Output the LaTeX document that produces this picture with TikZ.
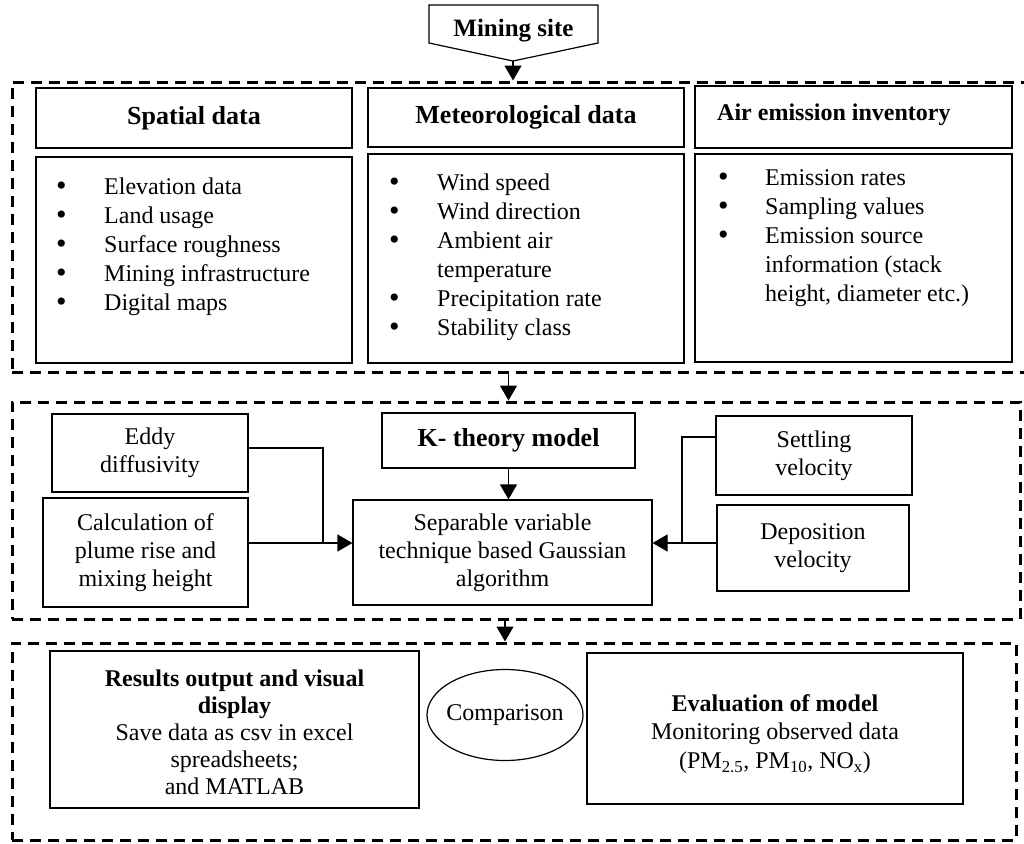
\documentclass[tikz,border=0pt]{standalone}
\usepackage{fontspec}
\setmainfont{Liberation Serif}
\usetikzlibrary{arrows.meta}

\newcommand\fsz[2]{\fontsize{#1}{#2}\selectfont}
\newcommand\lbul{{\fontsize{30}{29}\selectfont\raisebox{-1pt}{\textbullet}}}

\begin{document}
\begin{tikzpicture}[x=1pt,y=-1pt,
  frame/.style={draw, line width=3pt, dash pattern=on 11pt off 7pt, inner sep=0pt},
  box/.style={draw, line width=1.2pt, inner sep=0pt, align=center, font=\fsz{24}{28}},
  head/.style={box, font=\bfseries\fsz{26}{30}},
  listtext/.style={inner sep=0pt, anchor=base west, font=\fsz{24}{29}},
  link/.style={line width=1.2pt},
  arr/.style={line width=1.2pt, -{Triangle[length=15pt,width=17pt]}}]

\useasboundingbox (0,0) rectangle (1024,843);
\clip (0,0) rectangle (1024,843);

% ---------- mining site ----------
\draw[line width=1.2pt] (429,5) -- (598,5) -- (598,43) -- (513,61) -- (429,43) -- cycle;
\node[font=\bfseries\fsz{25}{30}] (mine) at (513.5,31) {Mining site};
\coordinate (minetip) at (513,61);

% ---------- input data ----------
\node[frame, minimum width=1022pt, minimum height=290pt] (topframe) at (523,227) {};

\node[head, minimum width=316pt, minimum height=60pt] (spatialhead) at (194,118) {Spatial data};
\node[box, minimum width=316pt, minimum height=206pt] (spatialbody) at (194,260) {};
\node[listtext] (spatiallist) at (56,194) {%
  \begin{tabular}[t]{@{}p{48pt}@{}l@{}}
  \lbul & Elevation data\\
  \lbul & Land usage\\
  \lbul & Surface roughness\\
  \lbul & Mining infrastructure\\
  \lbul & Digital maps
  \end{tabular}};

\node[head, minimum width=316pt, minimum height=59pt] (methead) at (526,117.5) {Meteorological data};
\node[box, minimum width=316pt, minimum height=209pt] (metbody) at (526,258.5) {};
\node[listtext] (metlist) at (389,190) {%
  \begin{tabular}[t]{@{}p{48pt}@{}l@{}}
  \lbul & Wind speed\\
  \lbul & Wind direction\\
  \lbul & Ambient air\\
        & temperature\\
  \lbul & Precipitation rate\\
  \lbul & Stability class
  \end{tabular}};

\node[box, minimum width=317pt, minimum height=62pt] (airhead) at (853.5,117) {};
\node[inner sep=0pt, anchor=base west, font=\bfseries\fsz{24}{28}] (airtitle) at (717,120) {Air emission inventory};
\node[box, minimum width=317pt, minimum height=208pt] (airbody) at (853.5,258) {};
\node[listtext] (airlist) at (718,185) {%
  \begin{tabular}[t]{@{}p{47pt}@{}l@{}}
  \lbul & Emission rates\\
  \lbul & Sampling values\\
  \lbul & Emission source\\
        & information (stack\\
        & height, diameter etc.)
  \end{tabular}};

% ---------- model ----------
\node[frame, minimum width=1008pt, minimum height=217pt] (midframe) at (516,510.5) {};

\node[box, minimum width=196pt, minimum height=78pt] (eddy) at (150,453) {Eddy\\diffusivity};
\node[box, minimum width=205pt, minimum height=109pt] (calc) at (145.5,552.5) {Calculation of\\plume rise and\\mixing height};
\node[head, minimum width=253pt, minimum height=55pt] (ktheory) at (508.5,440.5) {K- theory model};
\node[box, minimum width=299pt, minimum height=105pt] (sep) at (502.5,552.5) {Separable variable\\technique based Gaussian\\algorithm};
\node[box, minimum width=196pt, minimum height=79pt] (settle) at (814,455.5) {Settling\\velocity};
\node[box, minimum width=192pt, minimum height=86pt] (dep) at (813,548) {Deposition\\velocity};

\coordinate (jl) at (323,543);
\coordinate (jr) at (682,543);
\coordinate (sj) at (682,437);

% ---------- output ----------
\node[frame, minimum width=1004pt, minimum height=197pt] (botframe) at (514,741.5) {};

\node[box, minimum width=369pt, minimum height=157pt] (results) at (234.5,729.5) {};
\node[font=\fsz{24}{27}, align=center, inner sep=0pt] (resultstext) at (234.5,732)
  {\textbf{Results output and visual}\\\textbf{display}\\Save data as csv in excel\\spreadsheets;\\and MATLAB};
\node[font=\fsz{24}{28}, inner sep=0pt] (comparison) at (505,715) {Comparison};
\draw[line width=1.2pt] (comparison.center) ellipse [x radius=78, y radius=45.5];
\node[box, minimum width=376pt, minimum height=151pt] (evalbox) at (775,728.5) {};
\node[font=\fsz{24}{28.5}, align=center, inner sep=0pt] (evaltext) at (775,734)
  {\textbf{Evaluation of model}\\Monitoring observed data\\(PM\textsubscript{2.5}, PM\textsubscript{10}, NO\textsubscript{x})};

% ---------- connectors ----------
\draw[arr] (minetip) -- (minetip |- topframe.north);
\draw[arr] (ktheory |- topframe.south) -- (ktheory |- midframe.north);
\draw[arr] (ktheory.south) -- (ktheory.south |- sep.north);
\draw[link] ([yshift=5pt]eddy.east) -| (jl);
\draw[arr] (calc.east |- jl) -- (sep.west |- jl);
\draw[link] (settle.west |- sj) -- (sj) -- (jr);
\draw[arr] (dep.west |- jr) -- (sep.east |- jr);
\draw[arr] (comparison |- midframe.south) -- (comparison |- botframe.north);

\end{tikzpicture}
\end{document}
